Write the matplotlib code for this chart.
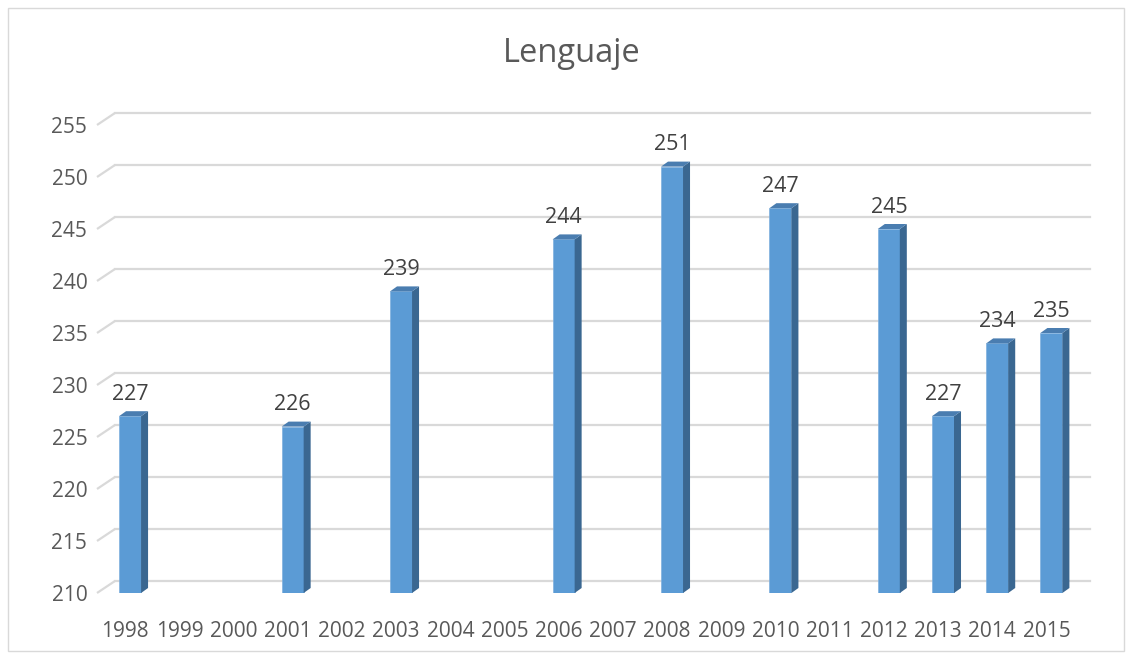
import matplotlib.pyplot as plt
import numpy as np
from matplotlib.patches import Polygon, Rectangle

# datos
years = ['1998', '1999', '2000', '2001', '2002', '2003', '2004', '2005', '2006',
         '2007', '2008', '2009', '2010', '2011', '2012', '2013', '2014', '2015']
bar_years = ['1998', '2001', '2003', '2006', '2008', '2010', '2012', '2013', '2014', '2015']
scores = [227, 226, 239, 244, 251, 247, 245, 227, 234, 235]
y_ticks = [210, 215, 220, 225, 230, 235, 240, 245, 250, 255]

plt.rcParams['font.family'] = ['Open Sans', 'DejaVu Sans']

W, H = 1132, 659
fig = plt.figure(figsize=(W / 100, H / 100), dpi=100)

# caja del grafico en pixeles (plano frontal)
left_px, right_px, top_px, bot_px = 97, 1072, 125, 593
ax = fig.add_axes([left_px / W, (H - bot_px) / H,
                   (right_px - left_px) / W, (bot_px - top_px) / H])
x0, x1 = -0.61, 17.38
ymin, ymax = 210, 255
ax.set_xlim(x0, x1)
ax.set_ylim(ymin, ymax)

px_x = (right_px - left_px) / (x1 - x0)   # pixeles por categoria
px_y = (bot_px - top_px) / (ymax - ymin)  # pixeles por unidad

# profundidad 3D
back_dx, back_dy = 18 / px_x, 12 / px_y
side_dx, side_dy = 7 / px_x, 5 / px_y

grid_c = '#D9D9D9'
for v in y_ticks:
    ax.plot([x0, x0 + back_dx], [v, v + back_dy], color=grid_c, lw=1.6,
            clip_on=False, zorder=1, solid_capstyle='butt')
    ax.plot([x0 + back_dx, x1 + back_dx], [v + back_dy, v + back_dy],
            color=grid_c, lw=1.6, clip_on=False, zorder=1)

xpos = np.array([years.index(y) for y in bar_years])
w = 0.406
front = '#5B9BD5'
side = '#3A6791'
top = '#4A7DB0'
ax.bar(xpos, np.array(scores) - ymin, bottom=ymin, width=w, color=front,
       edgecolor='#7FB0DE', linewidth=0.5, zorder=3)
for x, v in zip(xpos, scores):
    r = x + w / 2
    l = x - w / 2
    ax.add_patch(Polygon([(r, ymin), (r + side_dx, ymin + side_dy),
                          (r + side_dx, v + side_dy), (r, v)],
                         closed=True, facecolor=side, edgecolor='none', zorder=3))
    ax.add_patch(Polygon([(l, v), (l + side_dx, v + side_dy),
                          (r + side_dx, v + side_dy), (r, v)],
                         closed=True, facecolor=top, edgecolor='none', zorder=3))
    ax.annotate(str(v), (x, v), xytext=(0, 8), textcoords='offset points',
                ha='center', va='bottom', fontsize=15.5, color='#404040',
                clip_on=False)

ax.set_yticks(y_ticks)
ax.set_yticklabels([str(t) for t in y_ticks])
ax.set_xticks(np.arange(len(years)) - 0.09)
ax.set_xticklabels(years)
ax.tick_params(axis='y', length=0, pad=7, labelsize=15, labelcolor='#595959')
ax.tick_params(axis='x', length=0, pad=20, labelsize=15, labelcolor='#595959')
for s in ax.spines.values():
    s.set_visible(False)
ax.patch.set_alpha(0)

fig.text(572 / W, 1 - 53 / H, 'Lenguaje', ha='center', va='center',
         fontsize=23.5, color='#595959')

fig.add_artist(Rectangle((8 / W, 8 / H), 1 - 16 / W, 1 - 16 / H,
                         transform=fig.transFigure, fill=False,
                         edgecolor='#D9D9D9', lw=1))

fig.savefig('out.png', dpi=100)
